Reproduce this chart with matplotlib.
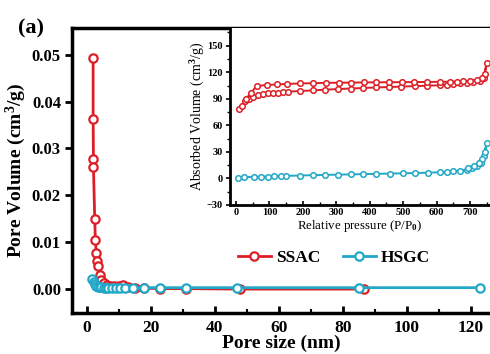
import matplotlib.pyplot as plt
import matplotlib
from matplotlib.ticker import MultipleLocator, FormatStrFormatter

matplotlib.rcParams['font.family'] = ['Liberation Serif', 'DejaVu Serif']
matplotlib.rcParams['font.weight'] = 'bold'
matplotlib.rcParams['mathtext.fontset'] = 'custom'
matplotlib.rcParams['mathtext.rm'] = 'Liberation Serif:bold'
matplotlib.rcParams['mathtext.it'] = 'Liberation Serif:bold'
matplotlib.rcParams['mathtext.bf'] = 'Liberation Serif:bold'

red = '#dc1f26'
cyan = '#22a8c6'

# pore size distribution
ssac_size = [2.0, 2.0, 2.1, 2.1, 2.5, 2.7, 3.0, 3.2, 3.5, 4.0, 4.6, 5.3, 6.2, 7.2, 8.5, 10.0, 11.2, 13.0, 15.0, 18.0, 23.0, 31.0, 48.0, 86.5]
ssac_vol = [0.0493, 0.0363, 0.0277, 0.0261, 0.0150, 0.0104, 0.0076, 0.0061, 0.0049, 0.0031, 0.0020, 0.0013, 0.0009, 0.0007, 0.0006, 0.0006, 0.0008, 0.0004, 0.0003, 0.0002, 0.0001, 0.0001, 0.0, 0.0]
hsgc_size = [1.7, 2.2, 2.6, 3.0, 3.5, 4.0, 4.6, 5.3, 6.0, 6.8, 8.0, 9.2, 10.5, 12.0, 14.5, 18.0, 23.0, 31.0, 47.0, 85.0, 123.0]
hsgc_vol = [0.0021, 0.0015, 0.0010, 0.0007, 0.0005, 0.0004, 0.0004, 0.0003, 0.0003, 0.0003, 0.0003, 0.0003, 0.0003, 0.0003, 0.0003, 0.0003, 0.0003, 0.0003, 0.0003, 0.0003, 0.0003]

# isotherms (inset)
ssac_p = [9, 18, 27, 38, 50, 65, 80, 95, 110, 125, 140, 155, 190, 230, 267, 305, 343, 380, 420, 458, 495, 535, 572, 610, 630, 650, 670, 690, 710, 730, 742, 750,
          744, 735, 720, 700, 680, 660, 640, 610, 572, 534, 497, 458, 420, 382, 345, 307, 268, 230, 192, 152, 122, 92, 62, 45, 30]
ssac_q = [79, 82, 87, 90, 92.5, 94, 95, 96, 96.5, 97, 97.5, 98, 98.8, 99.5, 100.3, 101, 101.6, 102.2, 102.8, 103.3, 103.8, 104.3, 104.8, 105.3, 106, 106.6, 107.3, 108, 109, 110.5, 113, 131,
          118, 113, 111, 110, 109.8, 109.5, 109.3, 109.2, 109, 108.9, 108.8, 108.7, 108.6, 108.5, 108.3, 108.2, 108, 107.7, 107.3, 106.8, 106.2, 105.6, 104.5, 97, 90]
hsgc_p = [5, 25, 55, 75, 95, 115, 135, 150, 190, 230, 265, 305, 345, 380, 420, 460, 500, 535, 575, 610, 630, 650, 670, 690, 705, 720, 733, 742, 750,
          744, 737, 727, 712, 695]
hsgc_q = [1, 1.5, 1.8, 2, 2.2, 2.5, 2.7, 2.9, 3.3, 3.7, 4, 4.3, 4.6, 4.9, 5.2, 5.5, 5.8, 6.1, 6.5, 7, 7.5, 8, 8.8, 10, 11.5, 14, 18, 25, 40,
          30, 22, 17, 14, 12]

fig = plt.figure(figsize=(4.9, 3.54), dpi=100)
ax = fig.add_axes([72/490, 41/354, 418/490, 285/354])
ax.plot(ssac_size, ssac_vol, '-o', color=red, lw=2, ms=6, mfc='white', mew=1.6, label='SSAC', zorder=3)
ax.plot(hsgc_size, hsgc_vol, '-o', color=cyan, lw=2, ms=6, mfc='white', mew=1.6, label='HSGC', zorder=4)
ax.set_xlim(-4.6, 126)
ax.set_ylim(-0.0051, 0.0557)
ax.xaxis.set_major_locator(MultipleLocator(20))
ax.xaxis.set_minor_locator(MultipleLocator(10))
ax.yaxis.set_major_locator(MultipleLocator(0.01))
ax.yaxis.set_major_formatter(FormatStrFormatter('%.2f'))
ax.tick_params(axis='x', which='major', direction='in', length=5, width=2, labelsize=12.5, pad=5)
ax.tick_params(axis='x', which='minor', direction='in', length=3, width=1.5)
ax.tick_params(axis='y', which='major', direction='out', length=5, width=2, labelsize=12, pad=3)
for s in ['left', 'bottom', 'top']:
    ax.spines[s].set_linewidth(2.5)
ax.spines['right'].set_visible(False)
ax.set_xlabel('Pore size (nm)', fontsize=14, fontweight='bold', labelpad=-1)
ax.set_ylabel('Pore Volume (cm$^3$/g)', fontsize=14, fontweight='bold', labelpad=3)
fig.text(18/490, 1 - 28/354, '(a)', fontsize=16, fontweight='bold', va='center')

leg = fig.legend(loc='center', bbox_to_anchor=(334/490, 1 - 258/354), ncol=2, frameon=False,
                 fontsize=12.5, handlelength=1.9, columnspacing=1.3, handletextpad=0.3)

ins = fig.add_axes([230/490, 149/354, 260/490, 177/354])
ins.plot(ssac_p, ssac_q, '-o', color=red, lw=1.4, ms=4, mfc='white', mew=1.1)
ins.plot(hsgc_p, hsgc_q, '-o', color=cyan, lw=1.4, ms=4, mfc='white', mew=1.1)
ins.set_xlim(-18, 760)
ins.set_ylim(-30, 170)
ins.xaxis.set_major_locator(MultipleLocator(100))
ins.xaxis.set_minor_locator(MultipleLocator(50))
ins.yaxis.set_major_locator(MultipleLocator(30))
ins.yaxis.set_minor_locator(MultipleLocator(15))
ins.tick_params(axis='both', which='major', length=3, width=1.2, labelsize=7.5, pad=2)
ins.tick_params(axis='both', which='minor', length=2, width=1)
ins.tick_params(axis='x', which='both', direction='in')
for s in ['left', 'bottom']:
    ins.spines[s].set_linewidth(2)
ins.spines['top'].set_visible(False)
ins.spines['right'].set_visible(False)
ins.set_xlabel('Relative pressure (P/P$_0$)', fontsize=9.3, labelpad=1)
ins.set_ylabel('Absorbed Volume (cm$^3$/g)', fontsize=10, labelpad=0)

fig.savefig('out.png', dpi=100)
